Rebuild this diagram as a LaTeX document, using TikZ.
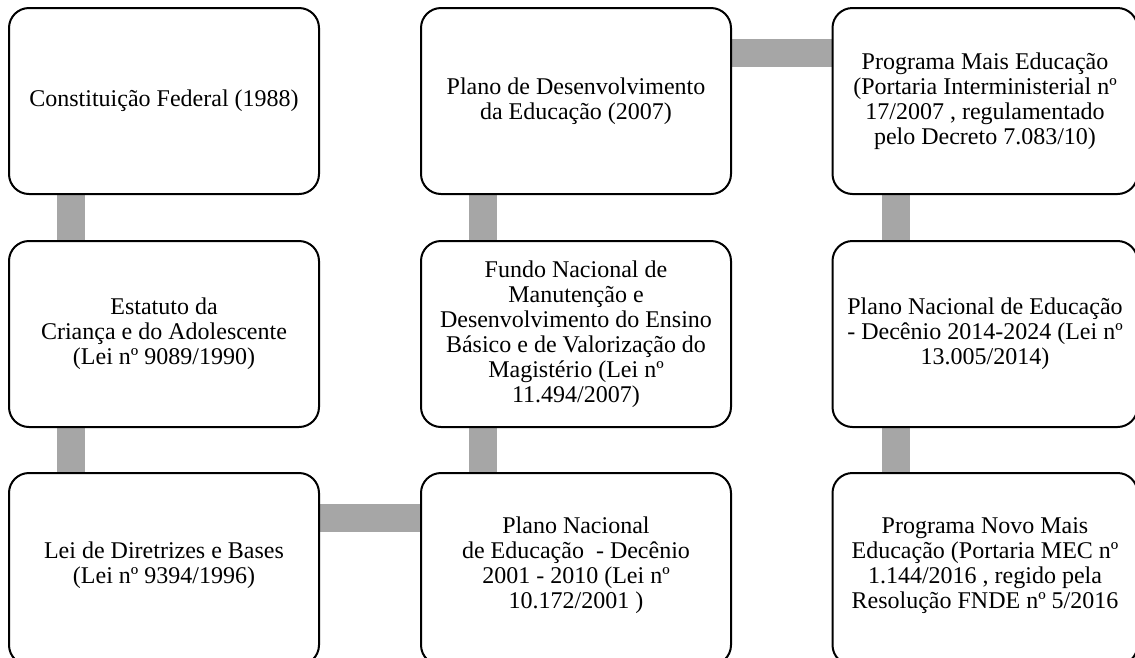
\documentclass[tikz,border=0pt]{standalone}
\usepackage{fontspec}
\setmainfont{Liberation Serif}
\usetikzlibrary{calc,backgrounds}
\definecolor{bargray}{HTML}{A6A6A6}
\newcommand{\lowpad}{\rule[-12pt]{0pt}{12pt}}
\begin{document}
\begin{tikzpicture}[x=1pt,y=-1pt,
  box/.style={draw=black, line width=2pt, rounded corners=20pt, fill=white,
    minimum width=310pt, minimum height=186pt, align=center, inner sep=0pt,
    font=\fontsize{24pt}{25pt}\selectfont},
  narrow/.style={minimum width=305pt},
  lowrow/.style={minimum height=192pt},
  bar/.style={draw=bargray, line width=28pt}]
\useasboundingbox (0,0) rectangle (1135,657);
% column 1
\node[box] (cf)  at (164,101) {Constituição Federal (1988)};
\node[box] (eca) at (164,334) {Estatuto da\\Criança e do Adolescente\\(Lei nº 9089/1990)};
\node[box,lowrow] (ldb) at (164,569) {Lei de Diretrizes e Bases\\(Lei nº 9394/1996)\lowpad};
% column 2
\node[box] (pde) at (576,101) {Plano de Desenvolvimento\\da Educação (2007)};
\node[box] (fun) at (576,334) {Fundo Nacional de\\Manutenção e\\Desenvolvimento do Ensino\\Básico e de Valorização do\\Magistério (Lei nº\\11.494/2007)};
\node[box,lowrow] (pne) at (576,569) {Plano Nacional\\de Educação \ - Decênio\\2001 - 2010 (Lei nº\\10.172/2001 )\lowpad};
% column 3
\node[box,narrow] (pme)  at (985,101) {Programa Mais Educação\\(Portaria Interministerial nº\\17/2007 , regulamentado\\pelo Decreto 7.083/10)};
\node[box,narrow] (pne2) at (985,334) {Plano Nacional de Educação\\- Decênio 2014-2024 (Lei nº\\13.005/2014)};
\node[box,narrow,lowrow] (pnme) at (985,569) {Programa Novo Mais\\Educação (Portaria MEC nº\\1.144/2016 , regido pela\\Resolução FNDE nº 5/2016\lowpad};
% connectors
\begin{scope}[on background layer]
\draw[bar] ($(cf.south west)+(63,0)$) -- ($(eca.north west)+(63,0)$);
\draw[bar] ($(eca.south west)+(63,0)$) -- ($(ldb.north west)+(63,0)$);
\draw[bar] ($(ldb.north east)+(0,46)$) -- ($(pne.north west)+(0,46)$);
\draw[bar] ($(pne.north west)+(63,0)$) -- ($(fun.south west)+(63,0)$);
\draw[bar] ($(fun.north west)+(63,0)$) -- ($(pde.south west)+(63,0)$);
\draw[bar] ($(pde.north east)+(0,46)$) -- ($(pme.north west)+(0,46)$);
\draw[bar] ($(pme.south west)+(64,0)$) -- ($(pne2.north west)+(64,0)$);
\draw[bar] ($(pne2.south west)+(64,0)$) -- ($(pnme.north west)+(64,0)$);
\end{scope}
\end{tikzpicture}
\end{document}
